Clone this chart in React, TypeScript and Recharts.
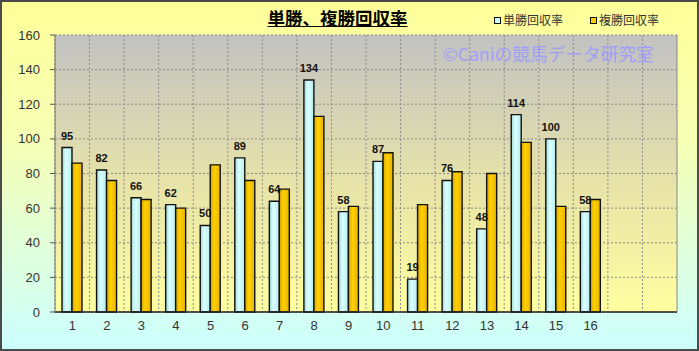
import { BarChart, Bar, XAxis, YAxis, CartesianGrid, LabelList } from 'recharts';

// race numbers (two empty slots at the end, as in the source sheet)
const RACES = ['1', '2', '3', '4', '5', '6', '7', '8', '9', '10', '11', '12', '13', '14', '15', '16', '', ''];
const WIN_RETURN = [95, 82, 66, 62, 50, 89, 64, 134, 58, 87, 19, 76, 48, 114, 100, 58, null, null];
const PLACE_RETURN = [86, 76, 65, 60, 85, 76, 71, 113, 61, 92, 62, 81, 80, 98, 61, 65, null, null];
const Y_TICKS = [0, 20, 40, 60, 80, 100, 120, 140, 160];

const TITLE = '単勝、複勝回収率';
const WIN_NAME = '単勝回収率';
const PLACE_NAME = '複勝回収率';
const WATERMARK = '©Caniの競馬データ研究室';

const data = RACES.map((race, i) => ({
  race,
  win: WIN_RETURN[i],
  place: PLACE_RETURN[i],
}));

const JP = '"Noto Sans CJK JP", "Noto Sans", sans-serif';
const NUM = '"Liberation Sans", Arial, sans-serif';

export default function App() {
  return (
    <div
      style={{
        position: 'absolute',
        left: 0,
        top: 0,
        width: 699,
        height: 351,
        background: 'linear-gradient(to bottom, #ffff99 0%, #f6ffb4 40%, #ccffff 100%)',
        fontFamily: NUM,
      }}
    >
      <style>{'body{margin:0}'}</style>

      <BarChart
        width={699}
        height={351}
        data={data}
        margin={{ top: 35, right: 21, left: 0, bottom: 0 }}
        barSize={10}
        barGap={0}
      >
        <defs>
          <linearGradient id="plotBg" x1="0" y1="0" x2="0" y2="1">
            <stop offset="0%" stopColor="#c2c2c2" />
            <stop offset="55%" stopColor="#e8e4a8" />
            <stop offset="100%" stopColor="#ffffa0" />
          </linearGradient>
          <linearGradient id="winFill" x1="0" y1="0" x2="1" y2="0">
            <stop offset="0%" stopColor="#9ad8d8" />
            <stop offset="40%" stopColor="#dcffff" />
            <stop offset="100%" stopColor="#b4ecec" />
          </linearGradient>
          <linearGradient id="placeFill" x1="0" y1="0" x2="1" y2="0">
            <stop offset="0%" stopColor="#d9a400" />
            <stop offset="40%" stopColor="#ffd000" />
            <stop offset="100%" stopColor="#e6b400" />
          </linearGradient>
        </defs>

        <CartesianGrid
          fill="url(#plotBg)"
          stroke="#8a8a8a"
          strokeDasharray="2 2"
          verticalCoordinatesGenerator={({ offset }: any) =>
            RACES.map((_, i) => offset.left + (i * offset.width) / RACES.length)
          }
        />

        <XAxis
          dataKey="race"
          height={39}
          tickLine={false}
          tickSize={0}
          tickMargin={9}
          axisLine={{ stroke: '#222', strokeWidth: 1.5 }}
          tick={{ fill: '#333', fontSize: 13, fontFamily: NUM }}
          interval={0}
        />
        <YAxis
          width={55}
          domain={[0, 160]}
          ticks={Y_TICKS}
          interval={0}
          tickSize={5}
          tickMargin={10}
          axisLine={{ stroke: '#777' }}
          tickLine={{ stroke: '#555' }}
          tick={{ fill: '#333', fontSize: 13, fontFamily: NUM }}
        />
        <YAxis
          yAxisId="frame"
          orientation="right"
          width={1}
          tick={false}
          tickLine={false}
          axisLine={{ stroke: '#888' }}
        />

        <Bar
          dataKey="win"
          name={WIN_NAME}
          fill="url(#winFill)"
          stroke="#111"
          strokeWidth={1.4}
          isAnimationActive={false}
        >
          <LabelList
            dataKey="win"
            position="top"
            offset={8}
            style={{ fill: '#111', fontSize: 11, fontWeight: 'bold', fontFamily: NUM }}
          />
        </Bar>
        <Bar
          dataKey="place"
          name={PLACE_NAME}
          fill="url(#placeFill)"
          stroke="#111"
          strokeWidth={1.4}
          isAnimationActive={false}
        />
      </BarChart>

      {/* title */}
      <div
        style={{
          position: 'absolute',
          left: 200,
          width: 275,
          top: 6,
          textAlign: 'center',
          fontFamily: JP,
          fontWeight: 'bold',
          fontSize: 17.5,
          textDecoration: 'underline',
          color: '#000',
          lineHeight: '24px',
        }}
      >
        {TITLE}
      </div>

      {/* legend */}
      <div
        style={{
          position: 'absolute',
          left: 494,
          top: 12,
          display: 'flex',
          gap: 27,
          fontFamily: JP,
          fontSize: 12,
          color: '#333',
          lineHeight: '16px',
        }}
      >
        {[
          { name: WIN_NAME, color: '#ccffff' },
          { name: PLACE_NAME, color: '#ffcc00' },
        ].map(item => (
          <div key={item.name} style={{ display: 'flex', alignItems: 'center', gap: 2 }}>
            <span
              style={{
                display: 'inline-block',
                width: 5,
                height: 5,
                background: item.color,
                border: '1.5px solid #111',
              }}
            />
            {item.name}
          </div>
        ))}
      </div>

      {/* watermark */}
      <div
        style={{
          position: 'absolute',
          left: 443,
          top: 41,
          fontFamily: JP,
          fontSize: 17.7,
          color: '#9a9aff',
          opacity: 0.9,
          lineHeight: '24px',
          whiteSpace: 'nowrap',
        }}
      >
        {WATERMARK}
      </div>

      {/* outer frame */}
      <div
        style={{
          position: 'absolute',
          inset: 0,
          border: '2px solid #4a4a4a',
          pointerEvents: 'none',
        }}
      />
    </div>
  );
}
